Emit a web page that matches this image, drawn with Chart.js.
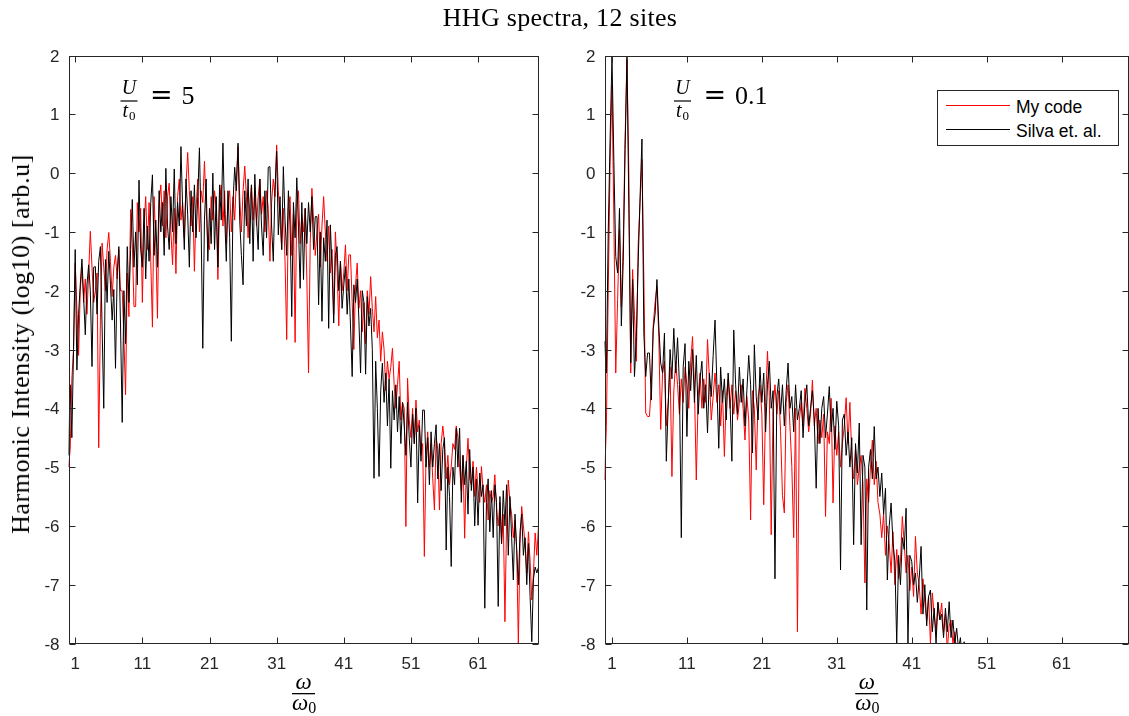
<!DOCTYPE html>
<html>
<head>
<meta charset="utf-8">
<script src="https://cdn.jsdelivr.net/npm/chart.js@4.4.0/dist/chart.umd.min.js"></script>
<style>
html, body { margin: 0; padding: 0; background: #fff; }
#page { position: relative; width: 1129px; height: 716px; overflow: hidden; }
#page canvas { position: absolute; left: 0; top: 0; }
.serif { position: absolute; white-space: nowrap; font-family: 'Liberation Serif', 'Times New Roman', serif; color: #000; }
#title { left: 560px; top: 5px; font-size: 26px; line-height: 26px; letter-spacing: 0.3px; transform: translateX(-50%); }
#ylabel { left: 8px; top: 344px; font-size: 26px; line-height: 26px; letter-spacing: 0.55px; transform-origin: 0 0; transform: rotate(-90deg) translateX(-50%); }
#legend { position: absolute; left: 937px; top: 90px; width: 182px; height: 56px; box-sizing: border-box;
  border: 1px solid #262626; background: #fff; font-family: 'Liberation Sans', Arial, sans-serif; font-size: 17.5px; color: #000; }
#legend .ln { position: absolute; left: 8px; width: 64px; height: 1px; }
#legend .lb { position: absolute; left: 78px; line-height: 17.5px; white-space: nowrap; }
</style>
</head>
<body>
<div id="page">
  <canvas id="leftChart" width="1129" height="716"></canvas>
  <canvas id="rightChart" width="1129" height="716"></canvas>
  <div id="title" class="serif">HHG spectra, 12 sites</div>
  <div id="ylabel" class="serif">Harmonic Intensity (log10) [arb.u]</div>
  <div id="legend">
    <div class="ln" style="top:14px;background:#ff0000"></div>
    <div class="lb" style="top:8px">My code</div>
    <div class="ln" style="top:38px;background:#000"></div>
    <div class="lb" style="top:32px">Silva et. al.</div>
  </div>
</div>
<script>
// frequency grid (harmonic order), sampled every quarter harmonic
const omegaStep = 0.25;
const xTicks = [1, 11, 21, 31, 41, 51, 61];
const yTicks = [2, 1, 0, -1, -2, -3, -4, -5, -6, -7, -8];

// U/t0 = 5, Silva et. al. (black)
const strongSilva = [
  -4.8, -3.6, -4.5, -3.0,   -1.3, -3.35, -2.4, -1.9,   -1.46, -2.1, -2.75, -1.9,   -1.56, -2.0, -3.29, -1.6,
  -1.59, -2.4, -1.5, -1.25, -2.6, -4.0, -1.47, -2.2,   -1.33, -1.9, -2.5, -1.98,   -3.32, -1.7, -1.25, -2.6,
  -4.24, -2.0, -2.9, -1.25, -2.2, -1.3, -0.45, -1.6,   -1.0, -1.9, -0.12, -1.3,    -1.6, -0.6, -1.8, -0.9,
  -1.5, -0.5, -0.03, -1.4,  -0.8, -1.6, -0.3, -1.0,    -0.5, -1.4, 0.08, -0.9,     -1.3, -0.4, -1.0, 0.07,
  -1.2, -0.5, -0.9, 0.45,   -0.6, -1.3, -0.1, -0.7,    -1.6, -0.3, -1.0, -0.2,     -1.1, -0.4, 0.43, -0.9,
  -2.98, -0.8, -0.1, -1.5,  -0.6, -1.2, 0.0, -1.3,     -0.4, -1.6, -0.2, -0.8,     0.51, -0.7, -1.5, -0.3,
  -1.1, -2.86, -0.5, 0.1,   -0.3, 0.51, -0.8, -1.4,    -1.9, -0.3, -0.9, -0.1,     -1.2, -0.2, -1.5, -0.02,
  -0.8, -1.3, -0.1, -0.9,   -1.4, -0.3, -1.1, 0.1,     0.11, -0.9, -1.5, -0.3,     0.37, -1.05, -0.4, -1.3,
  0.11, -0.8, -1.4, -0.3,   -0.9, -2.44, -0.5, -1.1,   -0.08, -0.9, -1.96, -0.5,   -1.81, -0.6, -1.2, -0.5,
  -1.0, -0.4, -1.3, -0.74,  -0.74, -2.24, -1.0, -2.52, -1.1, -1.5, -0.8, -2.64,   -0.88, -1.6, -2.55, -1.4,
  -1.25, -2.0, -1.5, -2.3,  -1.9, -1.59, -2.4, -1.8,   -2.6, -3.46, -1.9, -2.2,    -1.8, -2.5, -3.4, -2.0,
  -2.2, -3.42, -2.1, -2.6,  -2.3, -3.0, -5.19, -3.2,   -4.0, -5.16, -3.7, -3.23,   -3.9, -3.4, -4.3, -3.5,
  -5.02, -3.7, -4.2, -3.6,  -4.4, -3.8, -4.6, -3.9,    -4.3, -4.8, -3.9, -4.5,     -5.0, -4.1, -4.6, -4.0,
  -5.61, -4.3, -4.9, -4.03, -4.03, -5.0, -4.5, -5.3,   -4.4, -5.0, -4.6, -4.28,    -5.2, -4.6, -5.4, -4.7,
  -4.5, -6.41, -5.0, -5.5,  -6.69, -5.0, -5.3, -4.34,  -5.0, -4.34, -5.6, -4.8,    -5.3, -4.9, -5.8, -4.7,
  -5.4, -5.0, -6.0, -5.2,   -5.99, -5.1, -5.5, -5.3,   -7.4, -5.6, -5.2, -6.1,     -5.4, -6.2, -5.3, -5.6,
  -7.37, -5.5, -6.3, -5.4,  -6.0, -5.3, -6.5, -5.5,    -6.2, -6.92, -5.8, -6.4,    -7.0, -6.1, -5.8, -6.5,
  -6.2, -7.0, -6.3, -7.2,   -7.97, -6.9, -6.7, -6.8,   -6.7
];

// U/t0 = 5, my code (red)
const strongMine = [
  -5.0, -4.7, -3.5, -3.0,   -1.53, -2.3, -3.1, -2.0,   -1.6, -2.2, -1.8, -2.4,     -1.7, -0.99, -1.6, -2.2,
  -2.0, -1.7, -4.67, -2.5,  -1.19, -1.6, -2.0, -1.3,   -1.01, -1.5, -2.1, -1.6,    -1.4, -1.8, -1.3, -2.0,
  -2.0, -2.8, -3.77, -1.7,  -2.44, -0.62, -1.2, -2.27, -2.27, -0.5, -1.0, -0.6,    -2.2, -0.9, -0.4, -1.3,
  -0.5, -1.5, -2.62, -0.4,  -1.2, -2.47, -0.5, -0.2,   -0.9, -0.3, -1.1, -0.4,     -0.17, -1.0, -1.56, -0.6,
  -1.71, -0.4, -0.1, -0.8,  -0.5, -1.1, -0.2, 0.35,    -0.3, -0.9, -0.4, -1.67,    -0.6, -0.1, -1.0, -0.3,
  -0.5, 0.2, -0.6, -1.2,    -1.3, -0.4, -0.8, -0.3,    -0.6, -1.81, -0.5, -0.2,    -0.9, -0.3, -1.2, -0.5,
  -0.3, -1.0, -0.4, -0.8,   -0.1, 0.45, -0.4, -1.0,    -0.3, 0.12, -0.4, -1.1,     -0.5, -0.2, -0.8, -0.3,
  -0.9, -0.4, -0.1, -0.7,   -0.4, -1.0, -0.3, -0.6,    -1.5, -0.5, -0.1, -0.4,     0.48, -0.3, -0.8, -1.3,
  -0.6, -1.5, -2.83, -0.6,  -0.4, -1.4, -0.7, -2.88,   -0.5, -0.3, -1.2, -0.7,     -1.0, -0.6, -1.8, -3.4,
  -1.2, -0.26, -0.8, -1.4,  -1.0, -0.7, -1.6, -0.9,    -0.4, -1.0, -1.5, -0.9,     -1.7, -1.3, -2.4, -1.0,
  -1.6, -2.6, -1.5, -2.0,   -1.7, -1.22, -2.0, -1.39,  -1.39, -2.2, -3.0, -1.9,    -1.53, -2.3, -2.0, -2.7,
  -2.2, -2.9, -2.0, -2.4,   -1.76, -2.3, -2.7, -2.1,   -2.8, -2.5, -3.2, -2.7,     -3.0, -3.7, -3.2, -3.5,
  -3.3, -2.98, -3.6, -4.0,  -3.6, -3.2, -4.2, -3.9,    -4.0, -6.01, -3.49, -4.2,   -4.5, -4.0, -4.6, -3.86,
  -4.4, -4.2, -4.8, -4.6,   -6.52, -4.8, -4.4, -5.0,   -4.6, -5.2, -5.73, -4.5,    -4.7, -5.73, -4.6, -4.3,
  -4.6, -5.2, -4.8, -5.3,   -5.0, -4.6, -4.7, -4.3,    -4.5, -5.0, -5.4, -4.8,     -6.21, -5.0, -4.51, -5.2,
  -5.3, -4.9, -5.5, -5.0,   -5.4, -5.6, -4.99, -5.4,   -5.6, -5.3, -5.9, -5.4,     -5.6, -5.5, -5.13, -5.7,
  -6.0, -5.6, -6.3, -5.8,   -7.63, -5.9, -5.22, -5.6,  -5.8, -6.2, -5.9, -6.4,     -8.0, -6.3, -5.67, -6.0,
  -6.3, -6.8, -6.1, -6.6,   -7.26, -6.8, -6.12, -6.5,  -6.0
];

// U/t0 = 0.1, Silva et. al. (black); beyond ~48 it drops under the axis
const weakSilva = [
  -2.86, -3.4, -1.0, 0.6,   1.98, 0.2, -1.42, -1.7,    -0.6, -2.6, -1.5, 0.4,      1.98, -0.6, -3.23, -1.81,
  -3.46, -2.78, -1.5, -0.4, 0.58, -2.72, -3.46, -3.06, -3.06, -3.86, -2.66, -2.4,  -1.81, -2.6, -3.23, -3.4,
  -2.72, -4.9, -3.96, -3.0, -3.5, -2.64, -3.4, -2.8,   -3.6, -6.2, -3.3, -2.9,     -4.48, -3.2, -3.7, -3.0,
  -3.9, -3.1, -4.1, -3.5,   -3.2, -4.0, -3.6, -4.42,   -3.4, -3.8, -3.1, -2.5,     -3.6, -4.68, -3.3, -3.9,
  -3.5, -4.2, -3.4, -3.9,   -4.9, -2.67, -3.6, -4.1,   -3.3, -3.9, -3.5, -4.3,     -3.7, -3.1, -3.6, -4.76,
  -2.92, -3.8, -4.2, -3.3,  -3.9, -3.4, -4.4, -3.6,    -3.2, -4.0, -3.7, -6.9,     -3.8, -3.5, -4.1, -3.6,
  -4.3, -3.7, -3.23, -4.0,  -3.8, -4.4, -3.6, -4.2,    -4.0, -3.7, -4.5, -3.9,     -3.6, -4.3, -4.0, -3.7,
  -4.2, -5.36, -4.0, -4.6,  -4.0, -3.8, -4.5, -4.1,    -3.63, -4.4, -4.0, -4.7,    -3.88, -4.3, -6.75, -4.2,
  -4.1, -4.8, -4.4, -5.0,   -4.5, -6.32, -4.6, -5.1,   -4.25, -6.32, -4.8, -5.0,   -7.43, -5.0, -4.7, -5.2,
  -4.31, -5.2, -5.0, -5.5,  -5.1, -5.8, -5.36, -6.92,  -6.0, -5.61, -6.3, -6.6,    -8.0, -6.5, -7.0, -6.2,
  -6.4, -5.7, -8.0, -6.5,   -6.6, -7.0, -6.8, -7.3,    -6.9, -6.35, -7.5, -7.0,    -7.7, -7.2, -7.09, -7.8,
  -7.4, -8.0, -7.3, -7.6,   -7.5, -7.9, -7.4, -7.8,    -7.29, -7.9, -7.6, -8.0,    -7.74, -8.1, -7.9, -8.3,
  -7.97, -8.4, -8.2, -8.7,  -8.8
];

// U/t0 = 0.1, my code (red)
const weakMine = [
  -5.22, -4.31, -2.0, 0.2,  1.5, -0.8, -3.4, -2.15,    -0.96, -2.27, -1.2, 0.6,    1.93, 0.0, -3.4, -1.64,
  -2.4, -3.2, -1.2, -0.5,   0.23, -1.8, -4.08, -4.14,  -4.14, -3.6, -2.6, -2.2,    -1.93, -2.8, -4.36, -3.4,
  -3.2, -4.3, -3.9, -3.3,   -5.16, -3.7, -3.2, -3.6,   -4.1, -3.5, -3.9, -3.3,     -3.6, -4.0, -3.2, -2.78,
  -3.6, -5.22, -3.8, -3.4,  -4.0, -3.5, -3.9, -2.83,   -3.5, -4.2, -3.8, -3.4,     -3.9, -3.6, -4.3, -3.7,
  -4.82, -3.8, -3.5, -4.0,  -3.6, -4.1, -3.7, -4.2,    -3.9, -3.6, -4.0, -4.54,    -3.8, -4.2, -5.9, -3.7,
  -4.0, -5.05, -3.8, -3.6,  -4.1, -5.64, -3.9, -3.03,  -3.8, -6.15, -4.0, -3.6,    -4.1, -3.7, -4.4, -5.48,
  -5.78, -3.9, -3.6, -4.3,  -4.99, -6.2, -4.0, -7.8,   -4.2, -3.9, -4.3, -3.66,    -4.0, -4.4, -4.1, -3.52,
  -4.3, -4.0, -4.6, -4.2,   -4.5, -4.1, -5.84, -4.4,   -4.6, -3.83, -5.61, -4.3,   -4.8, -4.4, -5.0, -4.6,
  -4.3, -3.82, -4.6, -3.9,  -4.8, -5.2, -4.7, -5.3,    -5.0, -4.8, -5.3, -6.97,    -5.2, -5.6, -5.0, -4.54,
  -5.3, -4.9, -5.6, -5.8,   -6.2, -5.8, -6.5, -6.0,    -6.3, -6.8, -6.1, -7.0,     -6.4, -6.9, -6.6, -5.84,
  -6.3, -6.8, -6.5, -7.1,   -6.7, -7.2, -6.18, -6.8,   -7.0, -7.5, -6.9, -7.3,     -7.6, -7.2, -8.0, -7.14,
  -7.5, -7.8, -7.3, -7.6,   -7.31, -7.8, -7.5, -8.1,   -7.7, -7.6, -8.0, -7.8,     -8.2, -8.0, -8.4, -8.3,
  -8.6, -8.5, -8.8, -8.7,   -9.0
];

const toPoints = arr => arr.map((v, i) => ({ x: i * omegaStep, y: v }));

const axisColor = '#262626';
const tickFont = '17px "Liberation Sans", Arial, sans-serif';

// MATLAB-like box: inward ticks on all sides, labels, plus the LaTeX-ish math labels
const matlabAxes = {
  id: 'matlabAxes',
  afterDatasetsDraw(chart, args, opts) {
    const { ctx, chartArea: a } = chart;
    const xs = chart.scales.x, ys = chart.scales.y;
    const L = Math.round(a.left) + 0.5, R = Math.round(a.right) - 0.5;
    const T = Math.round(a.top) + 0.5, B = Math.round(a.bottom) - 0.5;
    ctx.save();
    ctx.strokeStyle = axisColor;
    ctx.lineWidth = 1;
    ctx.strokeRect(L, T, R - L, B - T);
    ctx.beginPath();
    xTicks.forEach(v => {
      const px = Math.round(xs.getPixelForValue(v)) + 0.5;
      ctx.moveTo(px, B); ctx.lineTo(px, B - 6);
      ctx.moveTo(px, T); ctx.lineTo(px, T + 6);
    });
    yTicks.forEach(v => {
      const py = Math.round(ys.getPixelForValue(v)) + 0.5;
      ctx.moveTo(L, py); ctx.lineTo(L + 6, py);
      ctx.moveTo(R, py); ctx.lineTo(R - 6, py);
    });
    ctx.stroke();

    ctx.fillStyle = axisColor;
    ctx.font = tickFont;
    ctx.textBaseline = 'alphabetic';
    ctx.textAlign = 'center';
    xTicks.forEach(v => ctx.fillText(String(v), xs.getPixelForValue(v), a.bottom + 25.5));
    ctx.textAlign = 'right';
    yTicks.forEach(v => ctx.fillText(String(v), a.left - 9, ys.getPixelForValue(v) + 6));

    // x label: omega / omega_0
    ctx.fillStyle = '#000';
    const cx = (a.left + a.right) / 2;
    ctx.font = 'italic 23px "Liberation Serif", serif';
    ctx.textAlign = 'center';
    ctx.fillText('ω', cx, 689);
    ctx.fillRect(cx - 11.5, 693, 23, 1.3);
    ctx.textAlign = 'left';
    const ww = ctx.measureText('ω').width;
    ctx.fillText('ω', cx - 11.5, 710);
    ctx.font = '16px "Liberation Serif", serif';
    ctx.fillText('0', cx - 11.5 + ww, 713);

    // U / t0 = value
    const f = opts.frac;
    ctx.font = 'italic 20px "Liberation Serif", serif';
    ctx.textAlign = 'center';
    ctx.fillText('U', f.cx, f.barY - 7);
    ctx.fillRect(f.cx - 8.5, f.barY - 0.6, 17, 1.2);
    ctx.textAlign = 'left';
    const tw = ctx.measureText('t').width;
    ctx.font = '13px "Liberation Serif", serif';
    const zw = ctx.measureText('0').width;
    const sx = f.cx - (tw + zw + 1) / 2;
    ctx.font = 'italic 20px "Liberation Serif", serif';
    ctx.fillText('t', sx, f.barY + 15.5);
    ctx.font = '13px "Liberation Serif", serif';
    ctx.fillText('0', sx + tw + 1, f.barY + 18.5);
    ctx.font = '27px "DejaVu Serif", serif';
    ctx.fillText('=', f.cx + 21, f.barY + 3);
    ctx.font = '26px "Liberation Serif", serif';
    ctx.fillText(f.value, f.cx + 52.5, f.barY + 3);
    ctx.restore();
  }
};

function makeChart(id, mine, silva, padding, frac) {
  return new Chart(document.getElementById(id).getContext('2d'), {
    type: 'line',
    data: {
      datasets: [
        { label: 'My code', data: toPoints(mine), borderColor: '#ff0000', borderWidth: 1, order: 1 },
        { label: 'Silva et. al.', data: toPoints(silva), borderColor: '#000000', borderWidth: 1, order: 0 }
      ]
    },
    options: {
      responsive: false,
      devicePixelRatio: 1,
      animation: false,
      events: [],
      parsing: false,
      layout: { padding: padding },
      elements: { point: { radius: 0 }, line: { tension: 0 } },
      scales: {
        x: { type: 'linear', min: 0, max: 70, display: false },
        y: { type: 'linear', min: -8, max: 2, display: false }
      },
      plugins: {
        legend: { display: false },
        tooltip: { enabled: false },
        matlabAxes: { frac: frac }
      }
    },
    plugins: [matlabAxes]
  });
}

makeChart('leftChart', strongMine, strongSilva,
  { left: 68.5, right: 590.5, top: 55.5, bottom: 72.5 },
  { cx: 129, barY: 101, value: '5' });
makeChart('rightChart', weakMine, weakSilva,
  { left: 604.5, right: 0, top: 55.5, bottom: 72.5 },
  { cx: 682.5, barY: 101, value: '0.1' });
</script>
</body>
</html>
